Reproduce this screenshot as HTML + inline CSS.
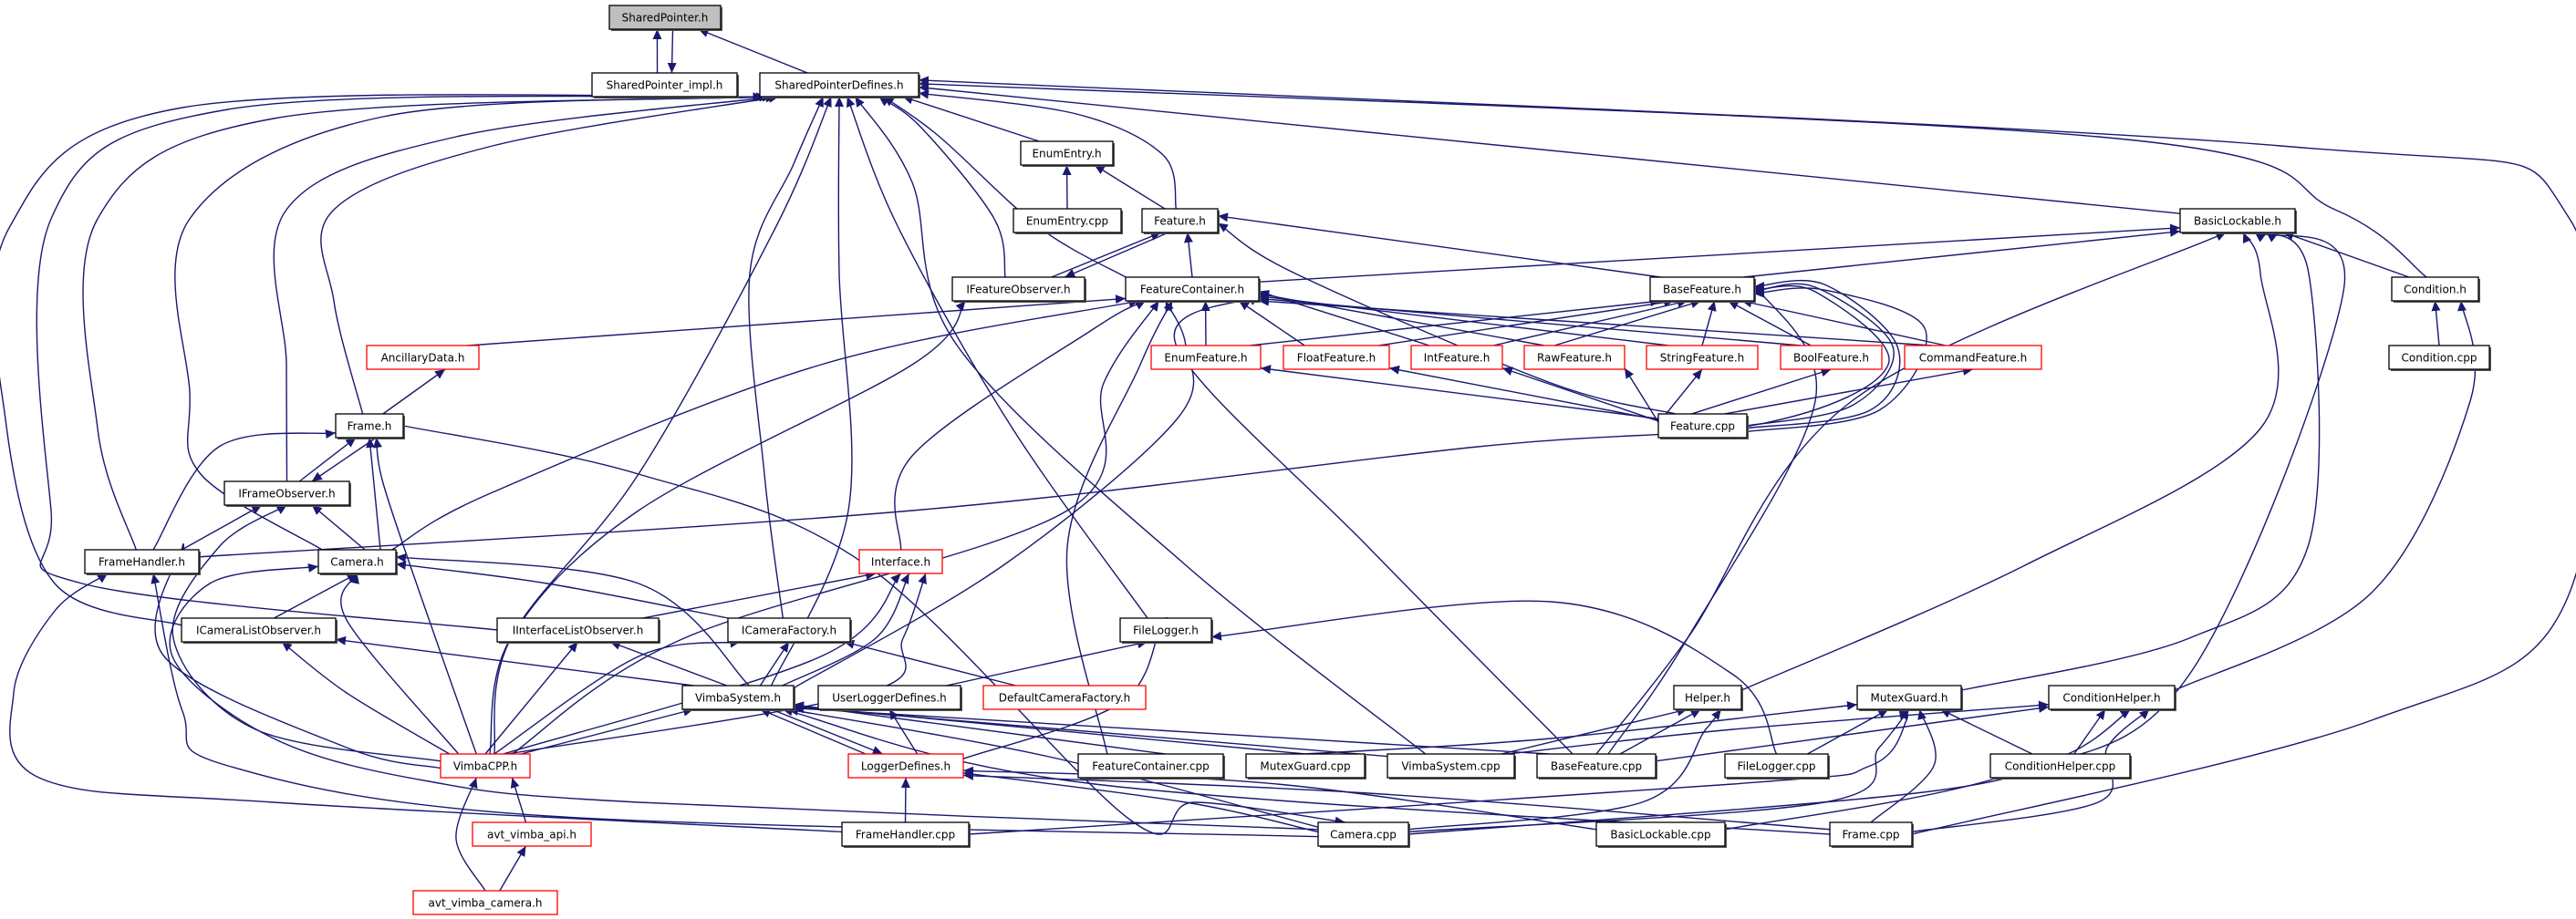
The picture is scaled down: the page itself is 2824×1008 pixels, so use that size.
<!DOCTYPE html>
<html><head><meta charset="utf-8"><style>
html,body{margin:0;padding:0;background:#fff;}
svg{display:block;}
text{font-family:"DejaVu Sans","Liberation Sans",sans-serif;font-size:12px;fill:#000;}
</style></head><body>
<svg id="g" xmlns="http://www.w3.org/2000/svg" width="2824" height="1008" viewBox="0 0 2824 1008">
<defs><marker id="a" markerWidth="12" markerHeight="10" refX="11" refY="5" orient="auto" markerUnits="userSpaceOnUse"><path d="M0,0 L11,5 L0,10 z" fill="#191970"/></marker>
<marker id="a2" markerWidth="12" markerHeight="10" refX="11" refY="5" orient="auto-start-reverse" markerUnits="userSpaceOnUse"><path d="M0,0 L11,5 L0,10 z" fill="#191970"/></marker></defs>
<g id="edges" fill="none" stroke="#191970" stroke-width="1.4"></g>
<g id="nodes"></g>
</svg>
<script>
var N={
SP:[668,790,6,"SharedPointer.h",2],SPI:[649,808,80,"SharedPointer_impl.h"],SPD:[833,1007,80,"SharedPointerDefines.h"],
EE:[1119,1220,155,"EnumEntry.h"],EEC:[1111,1229,229,"EnumEntry.cpp"],FH:[1252,1335,229,"Feature.h"],BL:[2390,2516,229,"BasicLockable.h"],
IFO:[1044,1189,304,"IFeatureObserver.h"],FC:[1234,1380,304,"FeatureContainer.h"],BF:[1809,1923,304,"BaseFeature.h"],COND:[2622,2717,304,"Condition.h"],
AD:[402,525,379,"AncillaryData.h",1],ENF:[1262,1382,379,"EnumFeature.h",1],FLF:[1407,1523,379,"FloatFeature.h",1],INF:[1547,1647,379,"IntFeature.h",1],
RAW:[1671,1781,379,"RawFeature.h",1],STR:[1805,1927,379,"StringFeature.h",1],BOOL:[1952,2063,379,"BoolFeature.h",1],CMD:[2088,2238,379,"CommandFeature.h",1],
CONDC:[2619,2729,379,"Condition.cpp"],FRH:[368,442,454,"Frame.h"],FCPP:[1818,1915,454,"Feature.cpp"],IFRO:[246,383,528,"IFrameObserver.h"],
FHH:[93,218,603,"FrameHandler.h"],CAM:[349,434,603,"Camera.h"],ITF:[942,1033,603,"Interface.h",1],ICLO:[199,368,678,"ICameraListObserver.h"],
IILO:[545,722,678,"IInterfaceListObserver.h"],ICF:[798,932,678,"ICameraFactory.h"],FL:[1228,1328,678,"FileLogger.h"],VS:[748,870,752,"VimbaSystem.h"],
ULD:[897,1053,752,"UserLoggerDefines.h"],DCF:[1078,1256,752,"DefaultCameraFactory.h",1],HLP:[1835,1909,752,"Helper.h"],MG:[2036,2150,752,"MutexGuard.h"],
CH:[2246,2384,752,"ConditionHelper.h"],VCPP:[483,581,827,"VimbaCPP.h",1],LD:[930,1056,827,"LoggerDefines.h",1],FCC:[1182,1341,827,"FeatureContainer.cpp"],
MGC:[1366,1496,827,"MutexGuard.cpp"],VSC:[1521,1660,827,"VimbaSystem.cpp"],BFC:[1685,1815,827,"BaseFeature.cpp"],FLC:[1891,2004,827,"FileLogger.cpp"],
CHC:[2182,2335,827,"ConditionHelper.cpp"],AVA:[518,648,902,"avt_vimba_api.h",1],FHC:[923,1062,902,"FrameHandler.cpp"],CAMC:[1445,1544,902,"Camera.cpp"],
BLC:[1750,1891,902,"BasicLockable.cpp"],FRC:[2006,2096,902,"Frame.cpp"],AVC:[453,611,977,"avt_vimba_camera.h",1]};
var H=26;
function T(n,f){var a=N[n];f=f==null?.5:f;return[a[0]+(a[1]-a[0])*f,a[2]];}
function B(n,f){var a=N[n];f=f==null?.5:f;return[a[0]+(a[1]-a[0])*f,a[2]+H];}
function L(n,f){var a=N[n];f=f==null?.5:f;return[a[0],a[2]+H*f];}
function R(n,f){var a=N[n];f=f==null?.5:f;return[a[1],a[2]+H*f];}
// edges: [start, [waypoints], end]  arrow at end
var E=[
[T('SPI',.45),[],B('SP',.43)],[B('SP',.57),[],T('SPI',.55)],
[T('SPD',.3),[],B('SP',.8)],
[L('ICLO',.3),[[60,640],[6,460],[10,250],[200,118]],B('SPD',.02)],
[L('IILO',.5),[[90,640],[56,560],[56,240],[250,120]],B('SPD',.04)],
[T('FHH',.45),[[107,470],[107,240],[300,130]],B('SPD',.06)],
[T('CAM',.05),[[220,520],[208,430],[208,240],[420,128]],B('SPD',.08)],
[T('IFRO',.5),[[314,400],[314,230],[500,150]],B('SPD',.1)],
[T('FRH',.4),[[366,330],[366,230],[540,160]],B('SPD',.12)],
[T('EE',.2),[],B('SPD',.9)],
[T('FH',.45),[[1275,170],[1180,125]],R('SPD',.85)],
[T('IFO',.4),[[1090,240],[1010,140]],B('SPD',.75)],
[T('FC',.0),[[1140,250],[1030,150]],B('SPD',.78)],
[L('BL',.2),[],R('SPD',.6)],
[T('COND',.4),[[2560,230],[2300,150]],R('SPD',.45)],
[R('FRC',.5),[[2600,790],[2817,650],[2817,240],[2500,160]],R('SPD',.3)],
[T('ICF',.45),[[838,520],[822,300],[870,180]],B('SPD',.4)],
[T('VCPP',.6),[[560,700],[700,520],[850,250]],B('SPD',.45)],
[T('VS',.8),[[930,560],[920,300]],B('SPD',.5)],
[T('FL',.3),[[1110,470],[985,250]],B('SPD',.55)],
[T('VSC',.3),[[1300,620],[1050,380],[1000,200]],B('SPD',.6)],
[T('EEC'),[],B('EE')],[T('FH',.3),[],B('EE',.8)],
[T('IFO',.75),[],B('FH',.25)],[B('FH',.35),[],T('IFO',.85)],[T('FC',.5),[],B('FH',.6)],[T('BF',.1),[],R('FH',.3)],
[R('FC',.2),[],L('BL',.8)],[T('BF',.9),[],L('BL',.95)],[T('COND',.2),[],B('BL',.9)],[T('CONDC'),[],B('COND',.5)],
[T('BFC',.5),[[1850,700],[2030,440]],B('BL',.4)],[R('HLP',.2),[[2220,620],[2478,470],[2478,300]],B('BL',.55)],
[R('MG',.2),[[2400,700],[2530,600],[2531,300]],B('BL',.65)],[R('BLC',.3),[[2200,850],[2400,740],[2569,320]],B('BL',.75)],
[R('CH',.2),[[2600,650],[2708,440]],B('COND',.8)],
[T('FCPP',.2),[[1700,420],[1420,300]],R('FH',.6)],
[R('FCPP',.5),[[2030,445],[2075,380],[1990,315]],R('BF',.6)],[R('FCPP',.6),[[2050,450],[2080,380],[2000,312]],R('BF',.4)],
[R('FCPP',.75),[[2060,450],[2110,360],[2000,318]],R('BF',.7)],
[R('FHH',.3),[[1000,560],[1620,490],[1930,465],[2070,400],[1990,320]],R('BF',.55)],
[T('AD',.9),[],L('FC',.9)],[T('FRH',.7),[],B('AD',.7)],
[T('IFRO',.6),[],B('FRH',.3)],[B('FRH',.6),[],T('IFRO',.7)],[T('FHH',.6),[[240,490]],L('FRH',.8)],[T('FHH',.85),[],B('IFRO',.3)],
[T('CAM',.6),[],B('IFRO',.7)],[T('CAM',.8),[],B('FRH',.5)],[T('CAM',.95),[[540,540],[900,400]],B('FC',.1)],
[R('FRH',.5),[[700,520],[950,620],[1240,900],[1310,880]],T('CAMC',.3)],
[T('ICLO',.6),[],B('CAM',.5)],[T('ICF',.0),[[600,640]],R('CAM',.6)],[T('VS',.6),[[700,640]],R('CAM',.3)],
[L('CAMC',.3),[[700,880],[470,857],[300,810],[189,720],[230,640]],L('CAM',.7)],
[L('FHC',.4),[[300,880],[45,854],[15,760],[60,670]],B('FHH',.2)],[L('CAMC',.6),[[600,895],[250,840],[200,780]],B('FHH',.6)],
[T('VCPP',.1),[[380,760]],B('ICLO',.65)],[T('VCPP',.5),[],B('IILO',.5)],[T('VCPP',.6),[[700,720]],B('ICF',.1)],
[T('VCPP',.7),[[900,720]],B('ITF',.5)],[T('VCPP',.75),[[950,760],[990,700]],B('ITF',.8)],[T('VCPP',.9),[],B('VS',.1)],
[T('VCPP',.2),[[380,680]],B('CAM',.5)],[L('VCPP',.3),[[280,800],[190,700],[240,600]],B('IFRO',.5)],
[T('VCPP',.4),[[460,650],[420,530]],B('FRH',.6)],[T('VCPP',.8),[[750,700],[1170,560],[1210,420]],B('FC',.25)],
[T('VCPP',.55),[[560,700],[700,560],[1000,400]],B('IFO',.1)],[L('VCPP',.6),[[380,820],[180,720],[200,600]],B('FHH',.85)],
[T('IILO',.9),[],B('ITF',.2)],[T('VS',.4),[],B('IILO',.7)],[T('VS',.1),[],R('ICLO',.9)],[T('VS',.7),[],B('ICF',.5)],
[T('VS',.9),[[960,700]],B('ITF',.6)],[R('VS',.1),[[1100,620],[1290,460],[1300,380]],B('FC',.3)],
[T('LD',.15),[],B('VS',.7)],[B('VS',.8),[],T('LD',.3)],[T('DCF',.2),[],B('ICF',.95)],[T('ULD',.9),[],B('FL',.3)],
[T('LD',.6),[],B('ULD',.5)],[R('LD',.2),[[1230,770],[1275,680]],B('FL',.6)],[T('FHC',.5),[],B('LD',.5)],
[T('ITF',.5),[[1000,500],[1200,360]],B('FC',.15)],[T('FCC',.2),[[1170,600],[1250,400]],B('FC',.35)],
[T('BFC',.3),[[1500,600],[1290,380]],R('FC',.8)],[T('BFC',.6),[[1850,700],[1990,440]],R('BF',.3)],
[T('FCC',.6),[],R('VS',.8)],[T('MGC',.5),[],R('VS',.85)],[L('VSC',.1),[],R('VS',.9)],[T('BFC',.1),[],R('VS',.95)],
[L('CAMC',.2),[[1150,830]],B('VS',.95)],[L('FRC',.5),[[1200,860]],B('VS',.9)],
[L('CAMC',.4),[[1300,880]],R('LD',.8)],[L('FRC',.3),[[1500,870]],R('LD',.9)],[L('BLC',.3),[[1400,860]],R('LD',.7)],
[T('VSC',.9),[],B('HLP',.2)],[T('BFC',.7),[],B('HLP',.4)],[R('CAMC',.3),[[1800,880],[1870,800]],B('HLP',.7)],
[T('MGC',.5),[[1700,810]],L('MG',.8)],[T('FLC',.8),[],B('MG',.3)],[T('CHC',.3),[],B('MG',.8)],[T('FRC',.5),[[2120,840]],B('MG',.6)],
[R('CAMC',.4),[[2000,880],[2060,820]],B('MG',.5)],[R('FHC',.5),[[1900,860],[2050,840],[2090,790]],B('MG',.4)],
[T('VSC',.95),[[1900,800]],L('CH',.8)],[R('BFC',.3),[],L('CH',.9)],[T('CHC',.6),[],B('CH',.45)],
[R('CAMC',.5),[[2100,870],[2260,830]],B('CH',.65)],[R('FRC',.4),[[2300,880],[2310,820]],B('CH',.8)],
[T('FLC',.5),[[1900,740],[1700,660]],R('FL',.8)],
[T('AVA',.45),[],B('VCPP',.8)],[T('AVC',.6),[],B('AVA',.45)],[T('AVC',.5),[[500,920]],B('VCPP',.4)]
];
['ENF','FLF','INF','RAW','STR','BOOL','CMD'].forEach(function(k,i){
 E.push([T(k,i<3?.9:(i==4?.5:.3)),[],B('BF',.1+i*.13)]);
 E.push([T(k,i==0?.5:.2),[],i<2?B('FC',.6+i*.25):R('FC',.4+i*.1)]);
 E.push([L('FCPP',.2+i*.05),[],i<4?R(k,.95):B(k,.5)]);
});
E.forEach(function(e,i){if(i>=0){}});
function cr(p){var d="M"+p[0][0]+","+p[0][1];if(p.length==2){return d+" L"+p[1][0]+","+p[1][1];}
 for(var i=0;i<p.length-1;i++){var p0=p[i-1]||p[i],p1=p[i],p2=p[i+1],p3=p[i+2]||p2;
  var c1=[p1[0]+(p2[0]-p0[0])/6,p1[1]+(p2[1]-p0[1])/6],c2=[p2[0]-(p3[0]-p1[0])/6,p2[1]-(p3[1]-p1[1])/6];
  d+=" C"+c1.join(",")+" "+c2.join(",")+" "+p2.join(",");}return d;}
var ns="http://www.w3.org/2000/svg",G=document.getElementById('edges');
E.forEach(function(e){var pts=[e[0]].concat(e[1]).concat([e[2]]);var p=document.createElementNS(ns,'path');
 p.setAttribute('d',cr(pts));p.setAttribute('marker-end','url(#a)');G.appendChild(p);});
</script>
<svg style="position:absolute;left:0;top:0" width="2824" height="1008" xmlns="http://www.w3.org/2000/svg">
<g id="nb"></g>
</svg>
<script>
var NB=document.getElementById('nodes'),s="";
for(var k in N){var a=N[k],w=a[1]-a[0],col=a[4]==1?"#ff0000":"#000",fill=a[4]==2?"#bfbfbf":"#fff";
 if(a[4]!=1) s+='<rect x="'+(a[0]+2)+'" y="'+(a[2]+2)+'" width="'+w+'" height="'+H+'" fill="#555"/>';
 s+='<rect x="'+a[0]+'" y="'+a[2]+'" width="'+w+'" height="'+H+'" fill="'+fill+'" stroke="'+col+'" stroke-width="1.3"/>';
 s+='<text x="'+(a[0]+w/2)+'" y="'+(a[2]+17.5)+'" text-anchor="middle">'+a[3]+'</text>';}
NB.innerHTML=s;
</script>
</body></html>
